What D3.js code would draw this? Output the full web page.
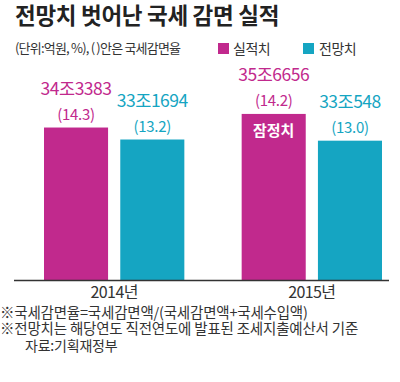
<!DOCTYPE html>
<html><head><meta charset="utf-8">
<script src="https://cdn.jsdelivr.net/npm/d3@7"></script>
<style>
body{margin:0;background:#fff;}
text{font-family:"Noto Sans CJK KR","Noto Sans",sans-serif;}
</style></head>
<body><svg id="c" width="400" height="382"></svg>
<script>
const years = ["2014년", "2015년"];
const seriesNames = ["실적치", "전망치"];
const actual = [34.3383, 35.6656];
const forecast = [33.1694, 33.0548];
const actualLabels = ["34조3383", "35조6656"];
const forecastLabels = ["33조1694", "33조548"];
const actualRates = ["(14.3)", "(14.2)"];
const forecastRates = ["(13.2)", "(13.0)"];
const colors = ["#c1298d", "#15a5c2"];

const svg = d3.select("#c");
const data = years.map((y, i) => ({
  year: y,
  vals: [
    {s: seriesNames[0], v: actual[i], lab: actualLabels[i], rate: actualRates[i], prov: i === 1},
    {s: seriesNames[1], v: forecast[i], lab: forecastLabels[i], rate: forecastRates[i], prov: false}
  ]
}));

const x0 = d3.scaleBand().domain(years).range([44, 382]).paddingInner(0.29).paddingOuter(0);
const x1 = d3.scaleBand().domain(seriesNames).range([0, x0.bandwidth()]).paddingInner(0.16).paddingOuter(0);
const y = d3.scaleLinear().domain([19.46, 36]).range([280, 110.5]);
const color = d3.scaleOrdinal().domain(seriesNames).range(colors);

// title
svg.append("text").attr("x", 15).attr("y", 24).attr("font-size", 22.5).attr("font-weight", 700)
  .attr("fill", "#222").attr("letter-spacing", -0.3).text("전망치 벗어난 국세 감면 실적");
svg.append("text").attr("x", 15).attr("y", 53).attr("font-size", 13).attr("fill", "#333")
  .attr("letter-spacing", -0.8).text("(단위:억원, %), ( )안은 국세감면율");

// legend
const leg = svg.append("g");
[[218, 233], [303, 319]].forEach((p, i) => {
  leg.append("rect").attr("x", p[0]).attr("y", 43).attr("width", 11).attr("height", 11).attr("fill", colors[i]);
  leg.append("text").attr("x", p[1]).attr("y", 53.5).attr("font-size", 14).attr("fill", "#333")
    .attr("letter-spacing", -0.5).text(seriesNames[i]);
});

const g = svg.append("g");
const groups = g.selectAll("g.grp").data(data).join("g").attr("class", "grp")
  .attr("transform", d => `translate(${x0(d.year)},0)`);

groups.selectAll("rect").data(d => d.vals).join("rect")
  .attr("x", d => x1(d.s)).attr("y", d => y(d.v))
  .attr("width", x1.bandwidth()).attr("height", d => y.range()[0] - y(d.v))
  .attr("fill", d => color(d.s));

groups.selectAll("text.rate").data(d => d.vals).join("text").attr("class", "rate")
  .attr("x", d => x1(d.s) + x1.bandwidth() / 2).attr("y", d => y(d.v) - 8)
  .attr("text-anchor", "middle").attr("font-size", 15).attr("fill", d => color(d.s))
  .attr("letter-spacing", -0.3).text(d => d.rate);

groups.selectAll("text.val").data(d => d.vals).join("text").attr("class", "val")
  .attr("x", d => x1(d.s) + x1.bandwidth() / 2).attr("y", d => y(d.v) - 33)
  .attr("text-anchor", "middle").attr("font-size", 17.5).attr("fill", d => color(d.s))
  .attr("letter-spacing", -0.5).text(d => d.lab);

groups.selectAll("text.prov").data(d => d.vals.filter(v => v.prov)).join("text").attr("class", "prov")
  .attr("x", d => x1(d.s) + x1.bandwidth() / 2).attr("y", d => y(d.v) + 22)
  .attr("text-anchor", "middle").attr("font-size", 15).attr("font-weight", 700).attr("fill", "#fff")
  .text("잠정치");

// axis
const axis = svg.append("g").attr("transform", "translate(0,280)")
  .call(d3.axisBottom(x0).tickSize(0).tickPadding(7).tickSizeOuter(0));
axis.select(".domain").attr("d", "M14,0.5H389").attr("stroke", "#333").attr("stroke-width", 1.6);
axis.selectAll("text").attr("font-size", 16).attr("fill", "#333").attr("letter-spacing", -0.6)
  .attr("font-family", "'Noto Sans CJK KR',sans-serif").attr("dy", "0.71em");

// footnotes (one text block, three lines)
const notes = [
  {t: "※국세감면율=국세감면액/(국세감면액+국세수입액)", x: 0, y: 318, fs: 14.5},
  {t: "※전망치는 해당연도 직전연도에 발표된 조세지출예산서 기준", x: 0, y: 334, fs: 14.5},
  {t: "자료:기획재정부", x: 25, y: 351, fs: 14}
];
const fn = svg.append("text").attr("fill", "#333").attr("letter-spacing", -0.2);
fn.selectAll("tspan").data(notes).join("tspan")
  .attr("x", d => d.x).attr("y", d => d.y).attr("font-size", d => d.fs).text(d => d.t);
</script></body></html>
